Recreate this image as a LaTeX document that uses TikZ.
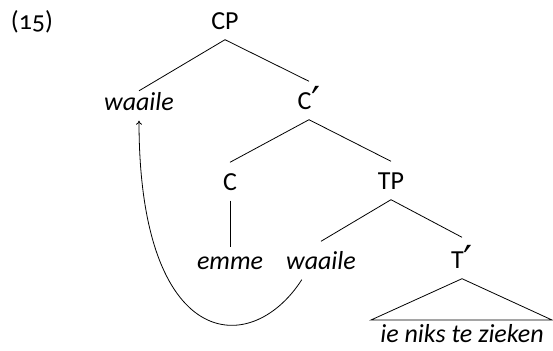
\documentclass[tikz,border=0pt]{standalone}
\usepackage{fontspec}
\setmainfont{Carlito}[Numbers=OldStyle]
\newfontfamily\primefont{DejaVu Sans}
\newcommand{\prm}{\raisebox{-6pt}{\primefont\fontsize{40}{40}\selectfont ′}}
\usetikzlibrary{arrows.meta}
\begin{document}
\begin{tikzpicture}[x=1pt,y=1pt,
  lab/.style={anchor=base,inner xsep=2pt,inner ysep=9.5pt,text height=19pt,text depth=0pt,font=\fontsize{26}{30}\selectfont},
  word/.style={lab,font=\fontsize{26}{30}\selectfont\itshape},
  edge/.style={line width=0.8pt},
  mv/.style={line width=0.8pt,-{To[length=4pt,width=6pt]}}]
\useasboundingbox (0,0) rectangle (553,350);
\node[lab] (ex) at (32,320) {(15)};
\node[lab] (cp) at (225,320) {CP};
\node[word,text height=10.5pt] (w1) at (139,239) {waaile};
\node[lab] (cb) at (309,240) {C\prm};
\node[lab] (c) at (230,159) {C};
\node[lab] (tp) at (391,160) {TP};
\node[word,text height=13.5pt] (em) at (230,80) {emme};
\node[word] (w2) at (321,80) {waaile};
\node[lab,text height=22pt] (tb) at (462,81) {T\prm};
\node[word,inner ysep=0pt] (ie) at (462,7) {ie niks te zieken};
\coordinate (bl) at (371,30);
\coordinate (br) at (552,30);
\draw[edge] (cp.south) -- (w1.north);
\draw[edge] (cp.south) -- (cb.north);
\draw[edge] (cb.south) -- (c.north);
\draw[edge] (cb.south) -- (tp.north);
\draw[edge] (c.south) -- (em.north);
\draw[edge] (tp.south) -- (w2.north);
\draw[edge] (tp.south) -- (tb.north);
\draw[edge] (tb.south) -- (bl) -- (br) -- cycle;
\draw[mv] (w2.225) .. controls (250,-10) and (139,0) .. (w1.south);
\end{tikzpicture}
\end{document}
